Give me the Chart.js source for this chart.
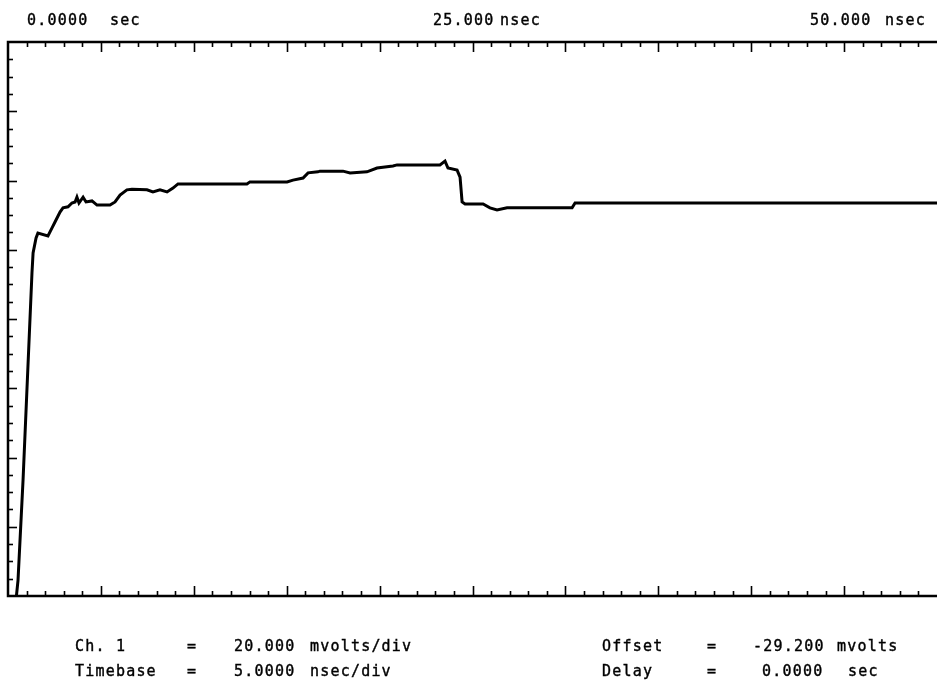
<!DOCTYPE html>
<html>
<head>
<meta charset="utf-8">
<script src="https://cdn.jsdelivr.net/npm/chart.js@4/dist/chart.umd.min.js"></script>
<style>
  html, body { margin: 0; padding: 0; background: #fff; }
  #wrap { position: relative; width: 937px; height: 685px; }
  canvas { position: absolute; left: 0; top: 0; }
  .t {
    position: absolute;
    font-family: "DejaVu Sans Mono", monospace;
    font-size: 15px;
    line-height: 15px;
    letter-spacing: 1.2px;
    color: #000;
    -webkit-text-stroke: 0.4px #000;
    white-space: pre;
  }
</style>
</head>
<body>
<div id="wrap">
  <canvas id="scope" width="937" height="685"></canvas>

  <!-- time labels across the top -->
  <div class="t" style="left:27px;top:13px">0.0000</div>
  <div class="t" style="left:110px;top:13px">sec</div>
  <div class="t" style="left:433px;top:13px">25.000</div>
  <div class="t" style="left:500px;top:13px">nsec</div>
  <div class="t" style="left:810px;top:13px">50.000</div>
  <div class="t" style="left:885px;top:13px">nsec</div>

  <!-- scope settings -->
  <div class="t" style="left:75px;top:639px">Ch. 1</div>
  <div class="t" style="left:187px;top:639px">=</div>
  <div class="t" style="left:234px;top:639px">20.000</div>
  <div class="t" style="left:310px;top:639px">mvolts/div</div>
  <div class="t" style="left:602px;top:639px">Offset</div>
  <div class="t" style="left:707px;top:639px">=</div>
  <div class="t" style="left:753px;top:639px">-29.200</div>
  <div class="t" style="left:837px;top:639px">mvolts</div>

  <div class="t" style="left:75px;top:664px">Timebase</div>
  <div class="t" style="left:187px;top:664px">=</div>
  <div class="t" style="left:234px;top:664px">5.0000</div>
  <div class="t" style="left:310px;top:664px">nsec/div</div>
  <div class="t" style="left:602px;top:664px">Delay</div>
  <div class="t" style="left:707px;top:664px">=</div>
  <div class="t" style="left:762px;top:664px">0.0000</div>
  <div class="t" style="left:848px;top:664px">sec</div>
</div>

<script>
// screen setup: 10 div x 5 ns, 8 div x 20 mV, centre at offset
const timeMin = 0;
const timeMax = 50;
const offsetMv = -29.2;
const voltMin = offsetMv - 80;
const voltMax = offsetMv + 80;

// trace (ns, mV)
const timeNs = [
  0.40, 0.54, 0.81, 1.29, 1.35, 1.51, 1.61, 2.15, 2.37, 2.53,
  2.80, 2.96, 3.23, 3.44, 3.61, 3.71, 3.82, 4.04, 4.20, 4.52,
  4.79, 5.49, 5.76, 6.03, 6.40, 6.67, 7.48, 7.80, 8.18, 8.56,
  8.88, 9.15, 10.33, 12.86, 13.02, 15.02, 15.34, 15.88, 16.15, 16.68,
  16.79, 18.03, 18.41, 19.32, 19.86, 20.72, 20.94, 23.25, 23.52, 23.68,
  24.17, 24.33, 24.44, 24.60, 25.57, 25.94, 26.32, 26.86, 30.36, 30.52,
  34.01, 50.00
];
const voltsMv = [
  -112.0, -104.6, -75.7, -15.9, -10.1, -5.8, -4.4, -5.2, -2.9, -1.2,
  1.7, 2.9, 3.2, 4.3, 4.6, 6.0, 4.3, 6.0, 4.6, 4.9,
  3.7, 3.7, 4.6, 6.6, 8.1, 8.3, 8.1, 7.5, 8.1, 7.5,
  8.6, 9.8, 9.8, 9.8, 10.4, 10.4, 10.9, 11.5, 13.0, 13.3,
  13.5, 13.5, 13.0, 13.3, 14.4, 15.0, 15.3, 15.3, 16.4, 14.4,
  13.8, 11.8, 4.6, 4.0, 4.0, 2.9, 2.3, 2.9, 2.9, 4.3,
  4.3, 4.3
];

// graticule ticks
const xMinorStep = 1;   // ns
const xMajorStep = 5;   // ns
const yMinorStep = 5;   // mV
const yMajorStep = 20;  // mV

const points = timeNs.map((t, i) => ({ x: t, y: voltsMv[i] }));

// frame and inward ticks like the scope screen
const screenFrame = {
  id: "screenFrame",
  afterDatasetsDraw(chart) {
    const { ctx, chartArea: a, scales } = chart;
    const xs = scales.x, ys = scales.y;
    ctx.save();
    ctx.strokeStyle = "#000";
    ctx.lineCap = "butt";

    ctx.lineWidth = 2.5;
    ctx.beginPath();
    ctx.moveTo(a.right, a.top);
    ctx.lineTo(a.left, a.top);
    ctx.lineTo(a.left, a.bottom);
    ctx.lineTo(a.right, a.bottom);
    ctx.stroke();

    ctx.lineWidth = 1.6;
    for (let t = timeMin + xMinorStep; t < timeMax; t += xMinorStep) {
      const px = Math.round(xs.getPixelForValue(t)) + 0.5;
      const major = Math.abs(t / xMajorStep - Math.round(t / xMajorStep)) < 1e-6;
      const len = major ? 10 : 5;
      ctx.beginPath();
      ctx.moveTo(px, a.top);
      ctx.lineTo(px, a.top + len);
      ctx.moveTo(px, a.bottom);
      ctx.lineTo(px, a.bottom - len);
      ctx.stroke();
    }

    for (let k = 1; k < (voltMax - voltMin) / yMinorStep; k++) {
      const v = voltMax - k * yMinorStep;
      const py = Math.round(ys.getPixelForValue(v)) + 0.5;
      const major = k % (yMajorStep / yMinorStep) === 0;
      const len = major ? 9 : 5;
      ctx.beginPath();
      ctx.moveTo(a.left, py);
      ctx.lineTo(a.left + len, py);
      ctx.stroke();
    }
    ctx.restore();
  }
};

new Chart(document.getElementById("scope"), {
  type: "line",
  data: {
    datasets: [
      {
        data: points,
        borderColor: "#000",
        borderWidth: 3,
        pointRadius: 0,
        tension: 0,
        fill: false,
      },
    ],
  },
  options: {
    responsive: false,
    animation: false,
    layout: { padding: { left: 8, top: 42, right: 0, bottom: 89 } },
    plugins: { legend: { display: false }, tooltip: { enabled: false } },
    scales: {
      x: { type: "linear", min: timeMin, max: timeMax, display: false },
      y: { type: "linear", min: voltMin, max: voltMax, display: false },
    },
  },
  plugins: [screenFrame],
});
</script>
</body>
</html>
